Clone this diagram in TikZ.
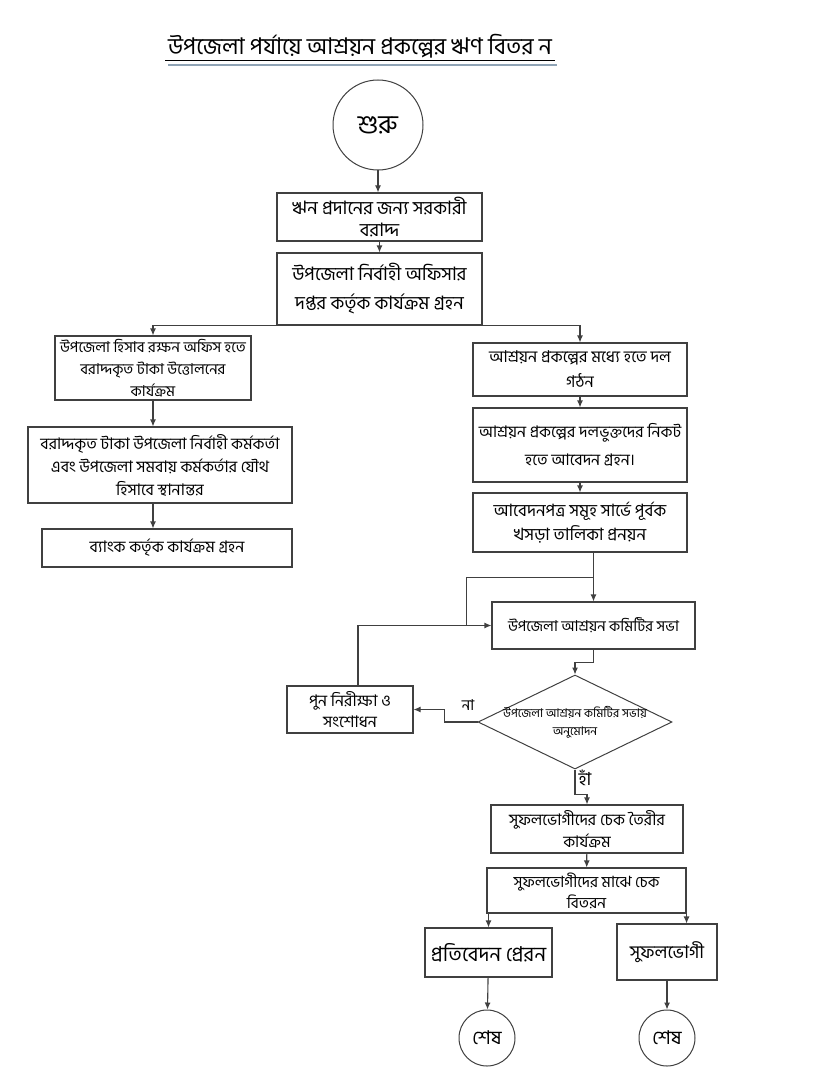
\documentclass[tikz,border=0pt]{standalone}
\usepackage{fontspec}
\newfontfamily\bn[Script=Bengali]{Hind Siliguri}
\usetikzlibrary{shapes.geometric,arrows.meta}
\definecolor{rulegray}{RGB}{143,163,181}

\tikzset{
  fs/.style 2 args={font=\bn\fontsize{#1}{#2}\selectfont},
  box/.style={draw=black!75, line width=1.1pt, align=center, inner sep=2pt},
  term/.style={circle, draw=black!75, line width=1pt, inner sep=0pt},
  dec/.style={diamond, draw=black!75, line width=1pt, inner sep=0pt},
  arr/.style={draw=black!75, line width=1.1pt, -{Latex[length=7pt,width=6pt]}},
  lin/.style={draw=black!75, line width=1.1pt},
}

\begin{document}
\begin{tikzpicture}[x=1pt,y=-1pt]
\useasboundingbox (0,0) rectangle (828,1086);
% title
\node[fs={23}{26}] (title) at (360,46) {উপজেলা পর্যায়ে আশ্রয়ন প্রকল্পের ঋণ বিতর ন};
\draw[line width=1pt] (165,61) -- (555,61);
\draw[line width=2pt, rulegray] (168,65) -- (557,65);
% start and top boxes
\node[term, minimum size=90pt, fs={26}{28}] (start) at (378,125) {শুরু};
\node[box, minimum width=205pt, minimum height=48pt, fs={18.5}{22}] (grant) at (379.5,217)
  {ঋন প্রদানের জন্য সরকারী\\বরাদ্দ};
\node[box, minimum width=205pt, minimum height=72pt, fs={18.5}{29}] (uno) at (379.5,289)
  {উপজেলা নির্বাহী অফিসার\\দপ্তর কর্তৃক কার্যক্রম গ্রহন};
% left column
\node[box, minimum width=196pt, minimum height=64pt, fs={15}{22}] (hisab) at (153,368)
  {উপজেলা হিসাব রক্ষন অফিস হতে\\বরাদ্দকৃত টাকা উত্তোলনের\\কার্যক্রম};
\node[box, minimum width=264pt, minimum height=76pt, fs={16}{23}] (transfer) at (160,465)
  {বরাদ্দকৃত টাকা উপজেলা নির্বাহী কর্মকর্তা\\এবং উপজেলা সমবায় কর্মকর্তার যৌথ\\হিসাবে স্থানান্তর};
\node[box, minimum width=250pt, minimum height=38pt, fs={16}{18}] (bank) at (167,548)
  {ব্যাংক কর্তৃক কার্যক্রম গ্রহন};
% right column
\node[box, minimum width=214pt, minimum height=53pt, fs={16.3}{25}] (dol) at (580,369.5)
  {আশ্রয়ন প্রকল্পের মধ্যে হতে দল\\গঠন};
\node[box, minimum width=214pt, minimum height=74pt, fs={16}{28}] (abedon) at (580,445)
  {আশ্রয়ন প্রকল্পের দলভুক্তদের নিকট\\হতে আবেদন গ্রহন।};
\node[box, minimum width=214pt, minimum height=59pt, fs={17}{24}] (talika) at (580,522.5)
  {আবেদনপত্র সমূহ সার্ভে পূর্বক\\খসড়া তালিকা প্রনয়ন};
\node[box, minimum width=203pt, minimum height=47pt, fs={15}{20}] (sova) at (593.5,625.5)
  {উপজেলা আশ্রয়ন কমিটির সভা};
\node[dec, minimum width=194pt, minimum height=94pt,
  label={[align=center, fs={12}{18}]center:{উপজেলা আশ্রয়ন কমিটির সভায়\\অনুমোদন}}] (approve) at (575,722) {};
\node[box, minimum width=126pt, minimum height=47pt, fs={16}{21}] (recheck) at (350,709.5)
  {পুন নিরীক্ষা ও\\সংশোধন};
\node[box, minimum width=192pt, minimum height=48pt, fs={16}{22}] (cheque) at (587,829)
  {সুফলভোগীদের চেক তৈরীর\\কার্যক্রম};
\node[box, minimum width=199pt, minimum height=45pt, fs={15.5}{21}] (distrib) at (586.5,890.5)
  {সুফলভোগীদের মাঝে চেক\\বিতরন};
\node[box, minimum width=127pt, minimum height=49pt, fs={20.5}{24}] (report) at (488.5,952.5)
  {প্রতিবেদন প্রেরন};
\node[box, minimum width=100pt, minimum height=56pt, fs={18}{24}] (benef) at (667,952)
  {সুফলভোগী};
\node[term, minimum size=56pt, fs={19}{20}] (end1) at (487,1038) {শেষ};
\node[term, minimum size=56pt, fs={19}{20}] (end2) at (667,1038) {শেষ};
% connectors
\draw[arr] (start) -- (start |- grant.north);
\draw[arr] (grant) -- (uno);
\draw[arr] (uno.south) -| (hisab.north);
\draw[arr] (uno.south) -| (dol.north);
\draw[arr] (hisab) -- (hisab |- transfer.north);
\draw[arr] (transfer.south -| hisab) -- (bank.north -| hisab);
\draw[arr] (dol) -- (abedon);
\draw[arr] (abedon) -- (talika);
\draw[arr] (talika.south -| sova.north) -- (sova);
\path (talika.south -| sova.north) ++(0,25) coordinate (loop);
\draw[lin] (loop) -| ([xshift=-25pt]sova.west);
\draw[arr] ([xshift=8pt]recheck.north) |- (sova.west);
\draw[arr] (sova.south) -- ++(0,13) -| (approve.north);
\draw[arr] (approve.west) -- ++(-33,0) |- (recheck.east);
\node[fs={15}{16}] (no) at (468,705) {না};
\draw[arr] (approve.south) -- ++(0,25) -| (cheque.north);
\node[fs={18}{20}] (yes) at (585,778) {হাঁ};
\draw[arr] (cheque) -- (distrib);
\draw[arr] (distrib.south -| report.north) -- (report);
\draw[arr] (distrib.south east) -- (distrib.south east |- benef.north);
\draw[arr] (report) -- (end1);
\draw[arr] (benef) -- (end2);
\end{tikzpicture}
\end{document}
